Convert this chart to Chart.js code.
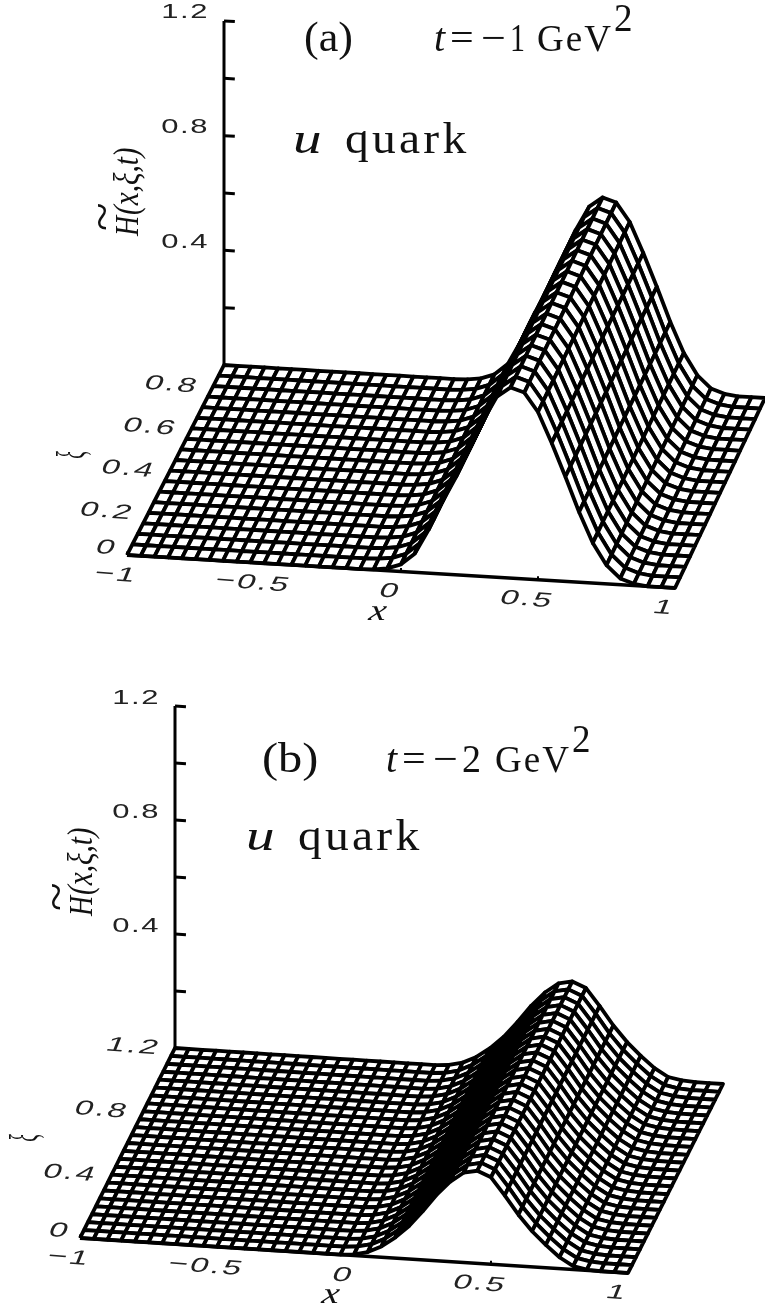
<!DOCTYPE html>
<html>
<head>
<meta charset="utf-8">
<title>u quark</title>
<script src="https://cdn.jsdelivr.net/npm/chart.js@4/dist/chart.umd.js"></script>
<style>
  html, body { margin: 0; padding: 0; background: #fff; }
  canvas { display: block; }
</style>
</head>
<body>
<canvas id="panelA" width="765" height="653"></canvas>
<canvas id="panelB" width="765" height="653"></canvas>
<script>
// --- data ---
const xGrid = [-1, -0.95, -0.9, -0.85, -0.8, -0.75, -0.7, -0.65, -0.6, -0.55, -0.5, -0.45, -0.4, -0.35, -0.3, -0.25, -0.2, -0.15, -0.1, -0.05,
  0, 0.05, 0.1, 0.15, 0.2, 0.25, 0.3, 0.35, 0.4, 0.45, 0.5, 0.55, 0.6, 0.65, 0.7, 0.75, 0.8, 0.85, 0.9, 0.95, 1];

const xiGridA = [0, 0.05, 0.1, 0.15, 0.2, 0.25, 0.3, 0.35, 0.4, 0.45, 0.5, 0.55, 0.6, 0.65, 0.7, 0.75, 0.8, 0.85, 0.9];
const xiGridB = [0, 0.05, 0.1, 0.15, 0.2, 0.25, 0.3, 0.35, 0.4, 0.45, 0.5, 0.55, 0.6, 0.65, 0.7, 0.75, 0.8, 0.85, 0.9, 0.95, 1, 1.05, 1.1, 1.15, 1.2];

// H(x) along the ridge, one value per xGrid entry
const profileA = [0, 0, 0, 0, 0, 0, 0, 0, 0, 0, 0, 0, 0, 0, 0, 0, 0, 0, 0.002, 0.008,
  0.025, 0.065, 0.15, 0.25, 0.34, 0.44, 0.545, 0.63, 0.665, 0.65, 0.585, 0.48, 0.365, 0.245, 0.14, 0.065, 0.022, 0.006, 0, 0, 0];
const profileB = [0, 0, 0, 0, 0, 0, 0, 0, 0, 0, 0, 0, 0, 0, 0, 0, 0, 0, 0, 0,
  0.004, 0.015, 0.038, 0.072, 0.115, 0.17, 0.23, 0.28, 0.315, 0.325, 0.305, 0.245, 0.18, 0.125, 0.08, 0.04, 0.012, 0.003, 0, 0, 0];

const zTicks = [0, 0.2, 0.4, 0.6, 0.8, 1, 1.2];
const zTickLabels = ['', '', '0.4', '', '0.8', '', '1.2'];
const xTicks = [-1, -0.5, 0, 0.5, 1];
const xTickLabels = ['\u22121', '\u22120.5', '0', '0.5', '1'];
const xiTicksA = [0, 0.2, 0.4, 0.6, 0.8];
const xiTickLabelsA = ['0', '0.2', '0.4', '0.6', '0.8'];
const xiTicksB = [0, 0.4, 0.8, 1.2];
const xiTickLabelsB = ['0', '0.4', '0.8', '1.2'];

// --- oblique view of each panel: corners of the base plane on the canvas ---
const viewA = { fl: [127, 555], fr: [675, 588], bl: [224, 365], br: [765, 398], zUnit: 286.7, xiMax: 0.9 };
const viewB = { fl: [80, 585], fr: [628, 620], bl: [175, 395], br: [723, 431], zUnit: 285, xiMax: 1.2 };

function project(view, x, xi, h) {
  const u = (x + 1) / 2, v = xi / view.xiMax;
  const front = [0, 1].map(i => view.fl[i] + (view.fr[i] - view.fl[i]) * u);
  const back = [0, 1].map(i => view.bl[i] + (view.br[i] - view.bl[i]) * u);
  return {
    x: front[0] + (back[0] - front[0]) * v,
    y: front[1] + (back[1] - front[1]) * v - h * view.zUnit
  };
}

function lineSet(points, width) {
  return { data: points, showLine: true, fill: false, borderColor: '#000', borderWidth: width, pointRadius: 0, borderCapStyle: 'butt', borderJoinStyle: 'round' };
}

function buildDatasets(view, xiGrid, profile) {
  const sets = [];
  const xiTop = xiGrid[xiGrid.length - 1];

  // vertical axis and its ticks go under the surface
  sets.push(lineSet([project(view, -1, xiTop, 0), project(view, -1, xiTop, 1.2)], 3));
  zTicks.slice(1).forEach(z => {
    sets.push(lineSet([project(view, -1, xiTop, z), project(view, -0.96, xiTop, z)], 3));
  });
  xTicks.forEach(t => {
    sets.push(lineSet([project(view, t, 0, 0), project(view, t, 0, 0.012)], 2));
  });

  // painter's order: far cells first, white fill hides what is behind
  for (let j = xiGrid.length - 2; j >= 0; j--) {
    for (let i = 0; i < xGrid.length - 1; i++) {
      const quad = [
        project(view, xGrid[i], xiGrid[j], profile[i]),
        project(view, xGrid[i + 1], xiGrid[j], profile[i + 1]),
        project(view, xGrid[i + 1], xiGrid[j + 1], profile[i + 1]),
        project(view, xGrid[i], xiGrid[j + 1], profile[i])
      ];
      quad.push(quad[0]);
      const cell = lineSet(quad, 3.8);
      cell.fill = 'shape';
      cell.backgroundColor = '#fff';
      sets.push(cell);
    }
  }

  // front axis on top
  sets.push(lineSet([project(view, -1, 0, 0), project(view, 1, 0, 0)], 3.6));

  // chart.js paints dataset 0 last
  return sets.reverse();
}

function drawText(ctx, str, px, py, o) {
  ctx.save();
  ctx.translate(px, py);
  if (o.rot) ctx.rotate(o.rot);
  ctx.transform(o.a || 1, o.b || 0, o.c || 0, o.d || 1, 0, 0);
  ctx.font = o.font;
  ctx.fillStyle = o.color || '#111';
  ctx.textAlign = o.align || 'left';
  ctx.textBaseline = o.base || 'alphabetic';
  ctx.letterSpacing = o.spacing || '0px';
  ctx.fillText(str, 0, 0);
  ctx.restore();
}

const SANS = '"Liberation Sans", sans-serif';
const SERIF = '"Liberation Serif", serif';

function labelsPlugin(view, xiTicks, xiTickLabels, xiTop, extra) {
  return {
    id: 'labels',
    afterDatasetsDraw(chart) {
      const ctx = chart.ctx;
      const sx = v => chart.scales.x.getPixelForValue(v);
      const sy = v => chart.scales.y.getPixelForValue(v);
      const tickStyle = { font: '20px ' + SANS, a: 1.55, spacing: '1px', base: 'middle', color: '#222' };
      const slanted = { font: '20px ' + SANS, a: 1.65, b: 0.13, c: -0.4, spacing: '1.5px', base: 'middle', color: '#222' };

      zTicks.forEach((z, i) => {
        if (!zTickLabels[i]) return;
        const p = project(view, -1, xiTop, z);
        drawText(ctx, zTickLabels[i], sx(p.x) - 15, sy(p.y) - 8, Object.assign({}, tickStyle, { align: 'right' }));
      });
      xiTicks.forEach((xi, i) => {
        const p = project(view, -1, xi, 0);
        const off = xi === 0 ? -10 : -15;
        drawText(ctx, xiTickLabels[i], sx(p.x) + off, sy(p.y) + (xi === 0 ? -6 : 1), Object.assign({}, slanted, { align: 'right' }));
      });
      xTicks.forEach((t, i) => {
        const p = project(view, t, 0, 0);
        drawText(ctx, xTickLabels[i], sx(p.x) - 11, sy(p.y) + 20, Object.assign({}, slanted, { align: 'center' }));
      });
      extra(ctx, sx, sy);
    }
  };
}

function makeChart(id, view, xiGrid, profile, plugin) {
  const canvas = document.getElementById(id);
  return new Chart(canvas, {
    type: 'scatter',
    data: { datasets: buildDatasets(view, xiGrid, profile) },
    options: {
      responsive: false,
      animation: false,
      layout: { padding: 0 },
      scales: {
        x: { type: 'linear', display: false, min: 0, max: canvas.width },
        y: { type: 'linear', display: false, min: 0, max: canvas.height, reverse: true }
      },
      plugins: { legend: { display: false }, tooltip: { enabled: false } }
    },
    plugins: [plugin]
  });
}

function yLabel(ctx, x, y) {
  const rot = -Math.PI / 2;
  drawText(ctx, 'H', x, y, { font: 'italic 31px ' + SERIF, rot: rot, a: 0.9, d: 1.08 });
  drawText(ctx, '~', x - 20, y - 5, { font: '30px ' + SERIF, rot: rot, a: 1.75, d: 1.6 });
  drawText(ctx, '(x,\u03BE,t)', x, y - 21, { font: 'italic 36px ' + SERIF, rot: rot, a: 0.81 });
}

function tLabel(ctx, x, y, digit, gev) {
  drawText(ctx, 't', x, y, { font: 'italic 40px ' + SERIF });
  drawText(ctx, '=', x + 16, y, { font: '40px ' + SERIF, a: 1.05 });
  drawText(ctx, '\u2212', x + 47, y, { font: '40px ' + SERIF, a: 1.1 });
  drawText(ctx, digit, x + 76, y, { font: '40px ' + SERIF, a: digit === '1' ? 0.75 : 0.95 });
  drawText(ctx, 'GeV', x + gev, y, { font: '37px ' + SERIF, spacing: '2px' });
  drawText(ctx, '2', x + gev + 77, y - 20, { font: '39px ' + SERIF, a: 0.95 });
}

function uQuark(ctx, x, y) {
  drawText(ctx, 'u', x, y, { font: 'italic 44px ' + SERIF, a: 1.3 });
  drawText(ctx, 'quark', x + 52, y, { font: '44px ' + SERIF, a: 1.08, spacing: '3px' });
}

makeChart('panelA', viewA, xiGridA, profileA, labelsPlugin(viewA, xiTicksA, xiTickLabelsA, 0.9, (ctx) => {
  drawText(ctx, '(a)', 304, 51, { font: '42px ' + SERIF, a: 1.05 });
  tLabel(ctx, 434, 51, '1', 103);
  uQuark(ctx, 293, 153);
  yLabel(ctx, 138, 236);
  drawText(ctx, '\u03BE', 74, 455, { font: 'italic 28px ' + SERIF, rot: -Math.PI / 2, align: 'center', base: 'middle', a: 0.6, d: 1.4 });
  drawText(ctx, 'x', 368, 620, { font: 'italic 30px ' + SERIF, a: 1.3, c: -0.15 });
}));

makeChart('panelB', viewB, xiGridB, profileB, labelsPlugin(viewB, xiTicksB, xiTickLabelsB, 1.2, (ctx) => {
  drawText(ctx, '(b)', 262, 119, { font: '42px ' + SERIF, a: 1.15 });
  tLabel(ctx, 386, 119, '2', 109);
  uQuark(ctx, 246, 197);
  yLabel(ctx, 92, 263);
  drawText(ctx, '\u03BE', 27, 485, { font: 'italic 28px ' + SERIF, rot: -Math.PI / 2, align: 'center', base: 'middle', a: 0.6, d: 1.4 });
  drawText(ctx, 'x', 321, 650, { font: 'italic 30px ' + SERIF, a: 1.3, c: -0.15 });
}));
</script>
</body>
</html>
